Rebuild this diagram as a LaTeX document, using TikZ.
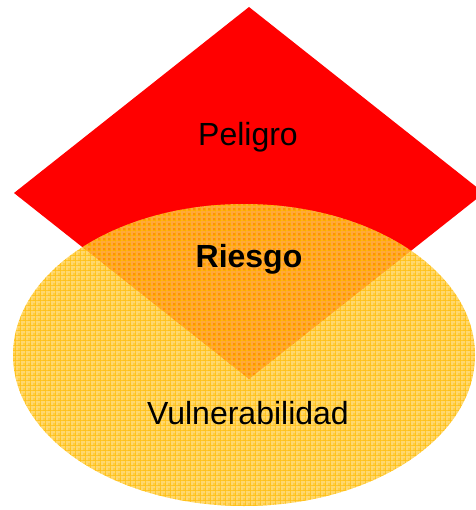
\documentclass[tikz,border=0pt]{standalone}
\usepackage{fontspec}
\setmainfont{Liberation Sans}
\usetikzlibrary{calc}
\definecolor{hazard}{RGB}{255,0,0}
\definecolor{exposure}{RGB}{255,190,10}
\definecolor{hatch}{RGB}{255,186,0}
\tikzset{label text/.style={font=\fontsize{24}{28}\selectfont, text=black}}

\begin{document}
\begin{tikzpicture}[x=0.75pt, y=-0.75pt]
  \useasboundingbox (0,0) rectangle (475,510);
  % peligro
  \fill[hazard] (249,7) -- (484,193) -- (249,379) -- (14,193) -- cycle;
  % vulnerabilidad
  \fill[exposure, fill opacity=0.76] (244,355) ellipse [x radius=231, y radius=151];
  \begin{scope}
    \clip (244,355) ellipse [x radius=231, y radius=151];
    \draw[white, line width=1pt, opacity=0.22, step=3.75pt, shift={(2,2)}] (0,200) grid (475,510);
    \draw[hatch, line width=0.5pt, opacity=0.6, step=3.75pt] (0,200) grid (475,510);
  \end{scope}
  \node[label text] (peligro) at (248,137) {Peligro};
  \node[label text, font=\fontsize{24}{28}\selectfont\bfseries] (riesgo) at (249,259) {Riesgo};
  \node[label text] (vulnerabilidad) at (248,413) {Vulnerabilidad};
\end{tikzpicture}
\end{document}
